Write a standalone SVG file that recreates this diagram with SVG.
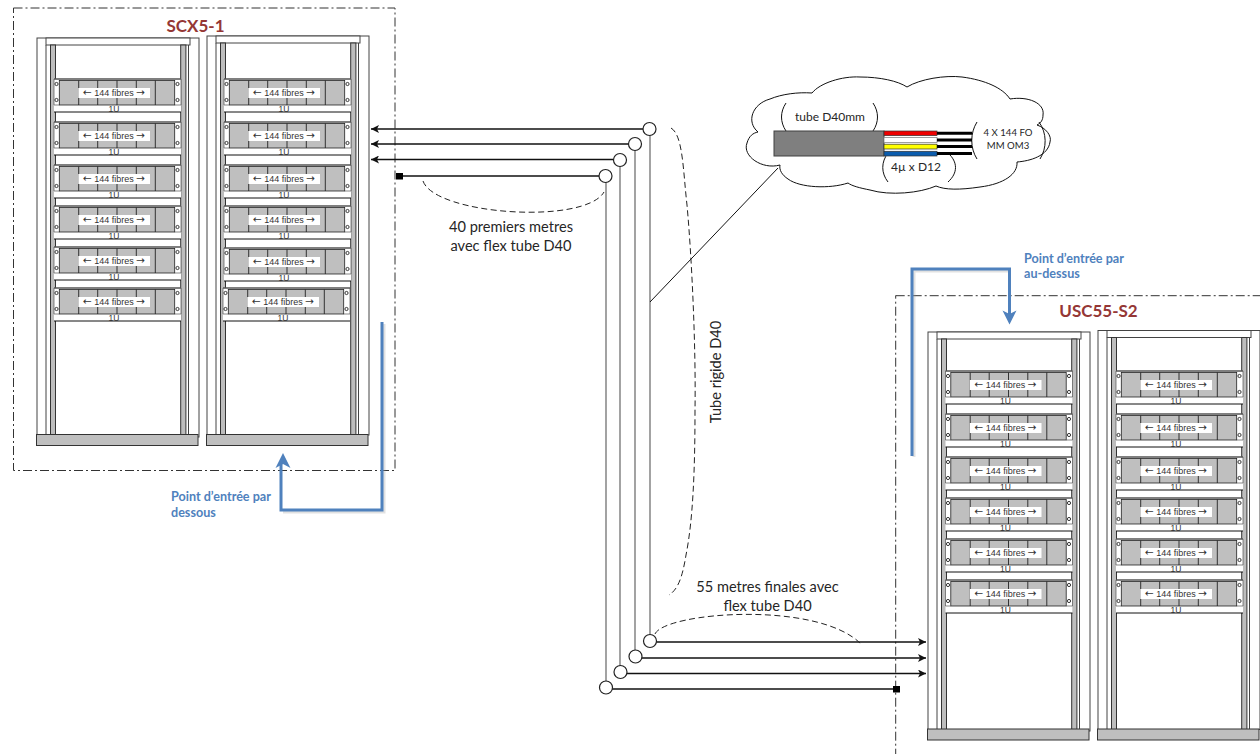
<svg xmlns="http://www.w3.org/2000/svg" width="1260" height="754" viewBox="0 0 1260 754">
<style>
text{font-family:"Lato","Liberation Sans",sans-serif;fill:#262626}
.u{font-family:"Liberation Sans",Arial,sans-serif;font-size:9px;text-anchor:middle;fill:#333}
.a{font-family:"DejaVu Sans",sans-serif;font-size:10.5px}
.o{font-family:"Liberation Sans",Arial,sans-serif;font-size:8.5px;text-anchor:middle;fill:#333}
.l{font-size:14.6px;text-anchor:middle}
.s{font-size:12px;text-anchor:middle}
.t{font-size:9.6px;text-anchor:middle}
.title{font-size:17px;font-weight:700;fill:#953735;text-anchor:middle}
.note{font-size:12.6px;font-weight:700;fill:#4f81bd}
.box{fill:none;stroke:#333;stroke-width:1;stroke-dasharray:9 3 2 3}
.gray{fill:none;stroke:#8c8c8c;stroke-width:1.6}
.wire{fill:none;stroke:#111;stroke-width:1.6}
.dash{fill:none;stroke:#222;stroke-width:1;stroke-dasharray:6 3.5}
.ring{fill:#fff;stroke:#222;stroke-width:1.2}
.blue{fill:none;stroke:#4f81bd;stroke-width:3;stroke-linejoin:miter}
.halo{fill:none;stroke:#9a9a9a;stroke-width:3;opacity:.3}
.thin{fill:none;stroke:#111;stroke-width:1}
.fr{fill:#fff;stroke:#444;stroke-width:1}
.post{fill:#bdbdbd;stroke:#333;stroke-width:1}
.base{fill:#bfbfbf;stroke:#333;stroke-width:1}
</style>
<defs>
<marker id="ah" markerUnits="userSpaceOnUse" markerWidth="9" markerHeight="8" refX="8" refY="4" orient="auto"><path d="M0,0L8,4L0,8L2,4Z" fill="#111"/></marker>
<g id="frame">
<rect class="fr" x="0" y="0" width="162" height="399"/>
<rect class="fr" x="9" y="0" width="144" height="7"/>
<path d="M9,7V399M151.5,7V399" fill="none" stroke="#444"/>
<rect class="post" x="13.5" y="7" width="5" height="392"/>
<rect class="post" x="143.7" y="7" width="5.2" height="392"/>
</g>
<g id="unit">
<rect x="0" y="0" width="127" height="33" fill="#fff" stroke="none"/>
<path d="M0,0H127" stroke="#555" stroke-width="1.5"/>
<path d="M0,33H127" stroke="#111" stroke-width="1"/>
<rect x="5.3" y="1.5" width="115.4" height="24.5" fill="#bfbfbf" stroke="#222" stroke-width=".8"/>
<path d="M24.7,1.5V26M43.7,1.5V26M63,1.5V26M82.3,1.5V26M101.3,1.5V26" stroke="#222" stroke-width=".9"/>
<path d="M0,0V26H5.3M127,0V26H120.7" fill="none" stroke="#555" stroke-width=".7"/>
<circle cx="2.5" cy="5" r="1.6" fill="#fff" stroke="#222" stroke-width=".9"/>
<circle cx="2.5" cy="21" r="1.6" fill="#fff" stroke="#222" stroke-width=".9"/>
<circle cx="123.5" cy="5" r="1.6" fill="#fff" stroke="#222" stroke-width=".9"/>
<circle cx="123.5" cy="21" r="1.6" fill="#fff" stroke="#222" stroke-width=".9"/>
<rect x="24.3" y="9" width="71.7" height="10" fill="#fff"/>
</g>
</defs>
<rect width="1260" height="754" fill="#fff"/>

<rect class="box" x="13.5" y="8" width="381.5" height="462.5"/>
<rect class="box" x="895.7" y="295.7" width="380" height="480"/>

<g id="rack-scx-1">
<use href="#frame" x="37" y="38"/>
<g transform="translate(54,79)"><use href="#unit"/><text class="u" x="60" y="17"><tspan class="a">←</tspan> 144 fibres <tspan class="a">→</tspan></text><text class="o" x="60" y="33">1U</text></g>
<g transform="translate(54,122)"><use href="#unit"/><text class="u" x="60" y="17"><tspan class="a">←</tspan> 144 fibres <tspan class="a">→</tspan></text><text class="o" x="60" y="33">1U</text></g>
<g transform="translate(54,165)"><use href="#unit"/><text class="u" x="60" y="17"><tspan class="a">←</tspan> 144 fibres <tspan class="a">→</tspan></text><text class="o" x="60" y="33">1U</text></g>
<g transform="translate(54,206)"><use href="#unit"/><text class="u" x="60" y="17"><tspan class="a">←</tspan> 144 fibres <tspan class="a">→</tspan></text><text class="o" x="60" y="33">1U</text></g>
<g transform="translate(54,247)"><use href="#unit"/><text class="u" x="60" y="17"><tspan class="a">←</tspan> 144 fibres <tspan class="a">→</tspan></text><text class="o" x="60" y="33">1U</text></g>
<g transform="translate(54,288)"><use href="#unit"/><text class="u" x="60" y="17"><tspan class="a">←</tspan> 144 fibres <tspan class="a">→</tspan></text><text class="o" x="60" y="33">1U</text></g>
<rect class="base" x="36.5" y="434.5" width="161.5" height="11"/>
</g>

<g id="rack-scx-2">
<use href="#frame" x="207" y="36"/>
<g transform="translate(224,79)"><use href="#unit"/><text class="u" x="60" y="17"><tspan class="a">←</tspan> 144 fibres <tspan class="a">→</tspan></text><text class="o" x="60" y="33">1U</text></g>
<g transform="translate(224,122)"><use href="#unit"/><text class="u" x="60" y="17"><tspan class="a">←</tspan> 144 fibres <tspan class="a">→</tspan></text><text class="o" x="60" y="33">1U</text></g>
<g transform="translate(224,165)"><use href="#unit"/><text class="u" x="60" y="17"><tspan class="a">←</tspan> 144 fibres <tspan class="a">→</tspan></text><text class="o" x="60" y="33">1U</text></g>
<g transform="translate(224,206)"><use href="#unit"/><text class="u" x="60" y="17"><tspan class="a">←</tspan> 144 fibres <tspan class="a">→</tspan></text><text class="o" x="60" y="33">1U</text></g>
<g transform="translate(224,248)"><use href="#unit"/><text class="u" x="60" y="17"><tspan class="a">←</tspan> 144 fibres <tspan class="a">→</tspan></text><text class="o" x="60" y="33">1U</text></g>
<g transform="translate(223,288)"><use href="#unit"/><text class="u" x="60" y="17"><tspan class="a">←</tspan> 144 fibres <tspan class="a">→</tspan></text><text class="o" x="60" y="33">1U</text></g>
<rect class="base" x="206.5" y="434.5" width="161.5" height="11"/>
</g>

<g id="rack-usc-1">
<use href="#frame" x="928" y="332"/>
<g transform="translate(945.5,371)"><use href="#unit"/><text class="u" x="60" y="17"><tspan class="a">←</tspan> 144 fibres <tspan class="a">→</tspan></text><text class="o" x="60" y="33">1U</text></g>
<g transform="translate(945.5,414)"><use href="#unit"/><text class="u" x="60" y="17"><tspan class="a">←</tspan> 144 fibres <tspan class="a">→</tspan></text><text class="o" x="60" y="33">1U</text></g>
<g transform="translate(945.5,457)"><use href="#unit"/><text class="u" x="60" y="17"><tspan class="a">←</tspan> 144 fibres <tspan class="a">→</tspan></text><text class="o" x="60" y="33">1U</text></g>
<g transform="translate(945.5,498)"><use href="#unit"/><text class="u" x="60" y="17"><tspan class="a">←</tspan> 144 fibres <tspan class="a">→</tspan></text><text class="o" x="60" y="33">1U</text></g>
<g transform="translate(945.5,539)"><use href="#unit"/><text class="u" x="60" y="17"><tspan class="a">←</tspan> 144 fibres <tspan class="a">→</tspan></text><text class="o" x="60" y="33">1U</text></g>
<g transform="translate(945.5,580)"><use href="#unit"/><text class="u" x="60" y="17"><tspan class="a">←</tspan> 144 fibres <tspan class="a">→</tspan></text><text class="o" x="60" y="33">1U</text></g>
<rect class="base" x="927.5" y="729" width="161.5" height="11"/>
</g>

<g id="rack-usc-2">
<use href="#frame" x="1098" y="330.5"/>
<g transform="translate(1116,371)"><use href="#unit"/><text class="u" x="60" y="17"><tspan class="a">←</tspan> 144 fibres <tspan class="a">→</tspan></text><text class="o" x="60" y="33">1U</text></g>
<g transform="translate(1116,414)"><use href="#unit"/><text class="u" x="60" y="17"><tspan class="a">←</tspan> 144 fibres <tspan class="a">→</tspan></text><text class="o" x="60" y="33">1U</text></g>
<g transform="translate(1116,457)"><use href="#unit"/><text class="u" x="60" y="17"><tspan class="a">←</tspan> 144 fibres <tspan class="a">→</tspan></text><text class="o" x="60" y="33">1U</text></g>
<g transform="translate(1116,498)"><use href="#unit"/><text class="u" x="60" y="17"><tspan class="a">←</tspan> 144 fibres <tspan class="a">→</tspan></text><text class="o" x="60" y="33">1U</text></g>
<g transform="translate(1116,539)"><use href="#unit"/><text class="u" x="60" y="17"><tspan class="a">←</tspan> 144 fibres <tspan class="a">→</tspan></text><text class="o" x="60" y="33">1U</text></g>
<g transform="translate(1116,580)"><use href="#unit"/><text class="u" x="60" y="17"><tspan class="a">←</tspan> 144 fibres <tspan class="a">→</tspan></text><text class="o" x="60" y="33">1U</text></g>
<rect class="base" x="1097.5" y="729" width="161.5" height="11"/>
</g>

<text class="title" x="195.5" y="32">SCX5-1</text>
<text class="title" x="1098.5" y="317">USC55-S2</text>

<g id="cloud">
<path d="M780,165C762,170 742,156 747,143C749,136 753,133 758,132C746,122 752,104 770,99C782,94 798,92 812,93C820,83 842,76 860,77C880,77 898,81 907,87C920,79 945,75 962,77C985,80 1003,88 1010,99C1028,96 1045,103 1043,115C1043,120 1041,123 1037,125C1046,128 1052,136 1050,142C1048,156 1030,161 1017,162C1018,174 1004,184 980,187C960,190 945,190 936,186C920,193 890,196 870,190C860,188 852,186 848,183C830,189 800,188 788,179C782,175 779,170 780,165Z" fill="#fff" stroke="#111" stroke-width="1"/>
<path class="thin" d="M786,103C780,112 780,122 786,131M873,103C879,112 879,122 873,131M888,153C881,162 881,173 888,182M948,153C958,162 958,173 948,182M977,122C970,133 970,148 977,159M1039,122C1047,133 1047,148 1040,159"/>
<rect x="774" y="131" width="110" height="25" fill="#7f7f7f" stroke="#404040"/>
<rect x="884" y="131" width="53" height="4.6" fill="#e00" stroke="#333" stroke-width=".7"/>
<rect x="884" y="137.5" width="53" height="5" fill="#fff" stroke="#888" stroke-width=".8"/>
<rect x="884" y="144.2" width="53" height="4.8" fill="#ff0" stroke="#333" stroke-width=".7"/>
<rect x="884" y="151.3" width="53" height="4.7" fill="#0b5cad" stroke="#333" stroke-width=".7"/>
<path d="M937,133.3H972M937,140H972M937,146.5H972M937,153.6H972" stroke="#000" stroke-width="3" fill="none"/>
<text class="s" x="830" y="121">tube D40mm</text>
<text class="s" x="916" y="171">4µ x D12</text>
<text class="t" x="1008" y="136">4 X 144 FO</text>
<text class="t" x="1008" y="149">MM OM3</text>
</g>

<g id="connectors">
<path class="gray" d="M650,129V641M635,144V656M620,160V672M606,176V687"/>
<path class="thin" d="M650,302L778,168"/>
<path class="wire" marker-end="url(#ah)" d="M649,129H371"/>
<path class="wire" marker-end="url(#ah)" d="M635,144H371"/>
<path class="wire" marker-end="url(#ah)" d="M620,159.5H371"/>
<path class="wire" d="M606,176H400"/>
<path class="wire" marker-end="url(#ah)" d="M650,642H926"/>
<path class="wire" marker-end="url(#ah)" d="M636,658H926"/>
<path class="wire" marker-end="url(#ah)" d="M620,673.5H926"/>
<path class="wire" d="M606,689H896"/>
<rect x="396" y="173" width="7" height="6.5" fill="#000"/>
<rect x="893" y="686" width="7" height="6.5" fill="#000"/>
<circle class="ring" cx="649.5" cy="129" r="6.5"/>
<circle class="ring" cx="635" cy="144" r="6.5"/>
<circle class="ring" cx="620" cy="160" r="6.5"/>
<circle class="ring" cx="605.5" cy="176" r="6.5"/>
<circle class="ring" cx="650" cy="641" r="6.5"/>
<circle class="ring" cx="635.5" cy="656.5" r="6.5"/>
<circle class="ring" cx="620.5" cy="672" r="6.5"/>
<circle class="ring" cx="606" cy="687.5" r="6.5"/>
<path class="dash" d="M423,181C435,215 585,225 604,192"/>
<path class="dash" d="M671,128C683,135 683,170 687,205C692,260 696,350 695,410C695,470 693,520 686,555C682,580 677,590 669,595"/>
<path class="dash" d="M655,634C665,612 820,600 862,645"/>
<path class="halo" d="M384,324V512H283"/>
<path class="blue" d="M382,322V510H281V462"/>
<path d="M283,453L290.5,468L283,464L275.5,468Z" fill="#4f81bd"/>
<path class="halo" d="M914,457V271H1011"/>
<path class="blue" d="M912,456V269H1009.5V316"/>
<path d="M1009.5,324.5L1002.5,310.5L1009.5,314L1016.5,310.5Z" fill="#4f81bd"/>
</g>

<text class="l" x="511" y="232">40 premiers metres</text>
<text class="l" x="511" y="251">avec flex tube D40</text>
<text class="l" x="767.5" y="592">55 metres finales avec</text>
<text class="l" x="767.5" y="611">flex tube D40</text>
<text class="l" transform="translate(720.5,372) rotate(-90)">Tube rigide D40</text>
<text class="note" x="171" y="501">Point d’entrée par</text>
<text class="note" x="171" y="516.5">dessous</text>
<text class="note" x="1024" y="263">Point d’entrée par</text>
<text class="note" x="1024" y="278">au-dessus</text>
</svg>
